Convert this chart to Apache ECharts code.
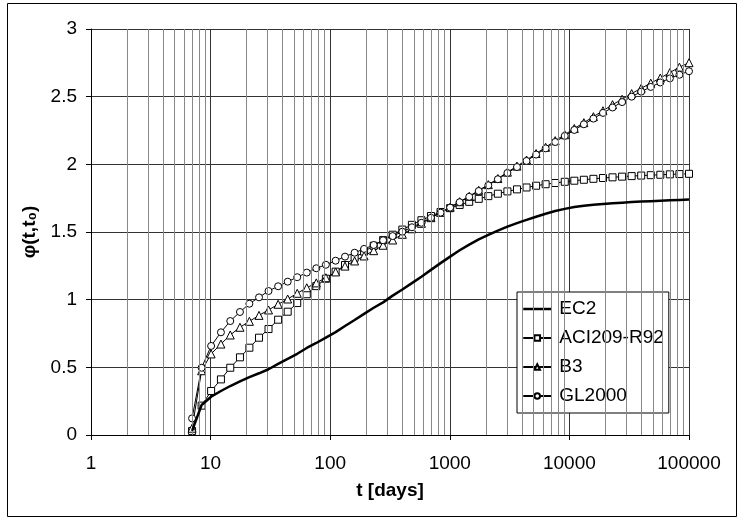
<!DOCTYPE html>
<html>
<head>
<meta charset="utf-8">
<script src="https://cdn.jsdelivr.net/npm/echarts@6/dist/echarts.min.js"></script>
<style>
  html, body { margin: 0; padding: 0; background: #fff; }
  #chart { width: 740px; height: 520px; }
</style>
</head>
<body>
<div id="chart"></div>
<script>
// Creep coefficient phi(t, t0) for loading at t0 = 7 days, by model
const days = [7, 8.41, 10.1, 12.2, 14.6, 17.6, 21.1, 25.4, 30.5, 36.7, 44.1, 53, 63.7, 76.5, 92,
  111, 133, 160, 192, 231, 277, 333, 401, 482, 579, 696, 837, 1006, 1209, 1453, 1746, 2099,
  2523, 3032, 3645, 4381, 5266, 6329, 7607, 9144, 10991, 13213, 15880, 19088, 22943, 27577,
  33147, 39842, 47890, 57563, 69189, 83164, 100000];

const ec2 = [0.03, 0.222, 0.283, 0.325, 0.362, 0.396, 0.428, 0.456, 0.486, 0.525, 0.563, 0.6,
  0.643, 0.68, 0.72, 0.76, 0.805, 0.85, 0.895, 0.94, 0.98, 1.03, 1.075, 1.122, 1.17, 1.22, 1.27,
  1.318, 1.365, 1.407, 1.445, 1.478, 1.51, 1.54, 1.566, 1.59, 1.613, 1.635, 1.655, 1.671, 1.684,
  1.694, 1.701, 1.707, 1.712, 1.717, 1.721, 1.725, 1.728, 1.731, 1.734, 1.737, 1.74];

const aci209 = [0.03, 0.217, 0.325, 0.411, 0.497, 0.574, 0.645, 0.719, 0.783, 0.852, 0.911,
  0.975, 1.04, 1.1, 1.155, 1.207, 1.256, 1.31, 1.355, 1.398, 1.44, 1.48, 1.518, 1.553, 1.587,
  1.618, 1.648, 1.676, 1.7, 1.723, 1.745, 1.765, 1.783, 1.8, 1.815, 1.829, 1.842, 1.853, 1.862,
  1.871, 1.879, 1.886, 1.893, 1.899, 1.904, 1.909, 1.913, 1.917, 1.92, 1.923, 1.926, 1.928, 1.93];

const b3 = [0.05, 0.475, 0.599, 0.672, 0.739, 0.796, 0.84, 0.884, 0.924, 0.966, 1.005, 1.047,
  1.088, 1.124, 1.162, 1.205, 1.248, 1.286, 1.323, 1.362, 1.402, 1.441, 1.483, 1.524, 1.564,
  1.606, 1.645, 1.683, 1.724, 1.764, 1.808, 1.85, 1.895, 1.942, 1.987, 2.032, 2.08, 2.126, 2.175,
  2.219, 2.265, 2.308, 2.352, 2.396, 2.441, 2.481, 2.523, 2.562, 2.6, 2.638, 2.678, 2.718, 2.751];

const gl2000 = [0.123, 0.497, 0.658, 0.759, 0.842, 0.909, 0.97, 1.017, 1.064, 1.099, 1.133,
  1.166, 1.2, 1.232, 1.258, 1.288, 1.318, 1.347, 1.375, 1.404, 1.439, 1.47, 1.502, 1.535, 1.568,
  1.605, 1.643, 1.68, 1.72, 1.76, 1.803, 1.845, 1.89, 1.936, 1.98, 2.025, 2.072, 2.118, 2.165,
  2.21, 2.254, 2.296, 2.338, 2.38, 2.42, 2.46, 2.5, 2.537, 2.572, 2.605, 2.635, 2.662, 2.688];

const seriesNames = ['EC2', 'ACI209-R92', 'B3', 'GL2000'];
const yTicks = { min: 0, max: 3, step: 0.5 };
const xRange = { min: 1, max: 100000 };

// minor vertical grid lines at 2..9 within each decade
const minorGrid = [];
for (let d = xRange.min; d < xRange.max; d *= 10) {
  for (let m = 2; m <= 9; m++) minorGrid.push(m * d);
}

const FONT = 'Arial, "Liberation Sans", sans-serif';
const pairs = (ys) => days.map((t, i) => [t, ys[i]]);

const markerSeries = (name, ys, symbol, size) => ({
  name: name,
  type: 'line',
  data: pairs(ys),
  symbol: symbol,
  symbolSize: size,
  showAllSymbol: true,
  z: 4,
  lineStyle: { color: '#000', width: 1 },
  itemStyle: { color: '#fff', borderColor: '#000', borderWidth: 1 }
});

const chart = echarts.init(document.getElementById('chart'), null, { renderer: 'canvas' });
chart.setOption({
  animation: false,
  backgroundColor: '#fff',
  textStyle: { fontFamily: FONT },
  graphic: [{
    type: 'rect',
    shape: { x: 7.5, y: 3.5, width: 729, height: 513 },
    style: { fill: 'none', stroke: '#000', lineWidth: 1 },
    silent: true
  }],
  grid: { left: 91, right: 51, top: 29, bottom: 85, containLabel: false },
  xAxis: {
    type: 'log',
    logBase: 10,
    min: xRange.min,
    max: xRange.max,
    name: 't [days]',
    nameLocation: 'middle',
    nameGap: 46,
    nameTextStyle: { fontSize: 19, fontWeight: 'bold', color: '#000', fontFamily: FONT },
    axisLine: { lineStyle: { color: '#000', width: 1 } },
    axisTick: { show: true, length: 5, lineStyle: { color: '#000' } },
    axisLabel: {
      fontSize: 19, color: '#000', margin: 19, fontFamily: FONT,
      formatter: (v) => String(Math.round(v))
    },
    splitLine: { show: true, lineStyle: { color: '#333', width: 1 } }
  },
  yAxis: {
    type: 'value',
    min: yTicks.min,
    max: yTicks.max,
    interval: yTicks.step,
    name: 'φ(t,t₀)',
    nameLocation: 'middle',
    nameGap: 51,
    nameTextStyle: { fontSize: 19, fontWeight: 'bold', color: '#000', fontFamily: FONT },
    axisLine: { show: true, lineStyle: { color: '#000', width: 1 } },
    axisTick: { show: true, length: 5, lineStyle: { color: '#000' } },
    axisLabel: { fontSize: 19, color: '#000', margin: 14, fontFamily: FONT },
    splitLine: { show: true, lineStyle: { color: '#333', width: 1 } }
  },
  legend: {
    orient: 'vertical',
    left: 517,
    top: 292,
    data: [
      { name: seriesNames[0], itemStyle: { opacity: 0 }, lineStyle: { width: 2.5, color: '#000' } },
      { name: seriesNames[1] },
      { name: seriesNames[2] },
      { name: seriesNames[3] }
    ],
    backgroundColor: '#fff',
    borderColor: '#000',
    borderWidth: 1,
    padding: [7, 5, 7, 5],
    itemGap: 9,
    itemWidth: 28,
    itemHeight: 7,
    textStyle: { fontSize: 19, color: '#000', lineHeight: 20, fontFamily: FONT, padding: [0, 0, 0, 3] }
  },
  series: [
    {
      name: 'grid-minor',
      type: 'line',
      data: [],
      z: 1,
      silent: true,
      markLine: {
        silent: true,
        symbol: 'none',
        label: { show: false },
        lineStyle: { color: '#888', width: 1, type: 'solid' },
        data: minorGrid.map((v) => ({ xAxis: v }))
      }
    },
    {
      name: 'EC2',
      type: 'line',
      data: pairs(ec2),
      symbol: 'none',
      z: 5,
      lineStyle: { color: '#000', width: 2.5 },
      itemStyle: { color: '#000' }
    },
    markerSeries('ACI209-R92', aci209, 'rect', 7),
    markerSeries('B3', b3, 'triangle', 8),
    markerSeries('GL2000', gl2000, 'circle', 7)
  ]
});
</script>
</body>
</html>
